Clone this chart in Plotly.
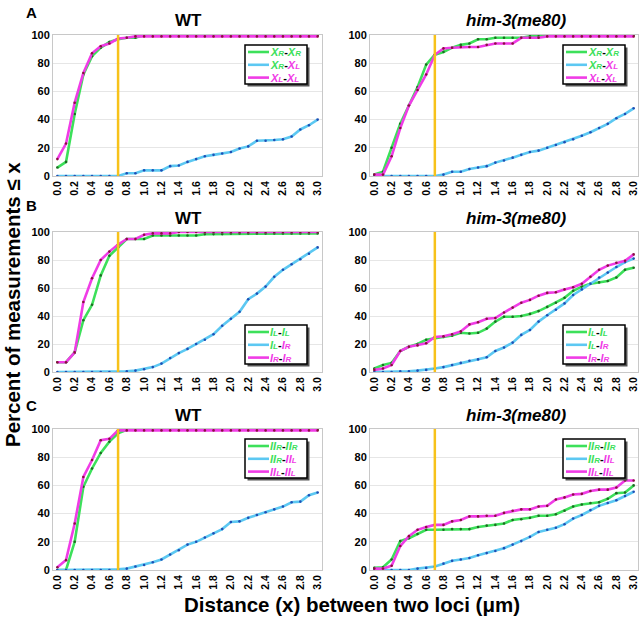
import plotly.graph_objects as go

# ---------------- data ----------------
x_vals = [round(i * 0.1, 1) for i in range(31)]
x_ticks = [round(i * 0.2, 1) for i in range(16)]
x_ticktext = ["%.1f" % v for v in x_ticks]
y_ticks = [0, 20, 40, 60, 80, 100]

# Panel A (X chromosome)
a_wt_same_r = [6, 10, 44, 72, 85, 91, 95, 97, 98, 98, 100, 100, 100, 100, 100, 100, 100, 100, 100, 100, 100, 100, 100, 100, 100, 100, 100, 100, 100, 100, 100]
a_wt_cross = [0, 0, 0, 0, 0, 0, 0, 0, 2, 2, 4, 4, 4, 7, 7.5, 10, 12, 14, 15, 16, 17, 19.5, 21, 25, 25, 25.5, 26, 28, 33, 36, 40]
a_wt_same_l = [12, 23, 52, 73, 87, 92, 94, 97.5, 98, 99, 99, 99, 99, 99, 99, 99, 99, 99, 99, 99, 99, 99, 99, 99, 99, 99, 99, 99, 99, 99, 99]

a_mu_same_r = [1, 3, 20, 37, 50, 63, 79, 86, 88, 91, 93, 94, 97, 97, 98, 98, 98, 98, 99, 99, 100, 100, 100, 100, 100, 100, 100, 100, 100, 100, 100]
a_mu_cross = [0, 0, 0, 0, 0, 0, 0, 0, 1, 3, 3, 5, 6, 7, 9.5, 11, 13, 15, 17, 18, 20, 22, 24, 26, 28.5, 31, 34, 37, 41, 44, 48]
a_mu_same_l = [1, 1, 14, 34, 50, 61, 72, 86, 90.5, 91, 91.5, 91.5, 91.5, 93, 94, 94, 94, 98, 98, 98, 99, 99, 99, 99, 99, 99, 99, 99, 99, 99, 99]

# Panel B (chromosome I)
b_wt_same_l = [7, 7, 14, 37, 48, 69, 83, 89, 95, 95, 95, 97.5, 97.5, 97.5, 97.5, 97.5, 97.5, 98.5, 98.5, 98.5, 99, 99, 99, 99, 99, 99, 99, 99, 99, 99, 99]
b_wt_cross = [0, 0, 0, 0, 0, 0, 0, 0, 0.5, 1, 2, 3.5, 6, 10, 13.5, 16.5, 20, 23, 27, 33, 38, 43, 52, 56, 61, 68, 73, 77, 80.5, 84.5, 89]
b_wt_same_r = [7, 7, 14, 50, 67, 80, 86, 91, 95, 95, 98, 99, 99, 99, 100, 100, 100, 100, 100, 100, 100, 100, 100, 100, 100, 100, 100, 100, 100, 100, 100]

b_mu_same_l = [2.5, 5, 6.5, 15, 18, 20, 23, 24, 25, 26, 28, 27.5, 28, 31, 36, 39.5, 39.5, 40, 41.5, 43.5, 46.5, 49.5, 53, 58, 61, 63, 64, 65, 67.5, 73, 74.5]
b_mu_cross = [0, 0, 0, 0.5, 0.5, 1, 1.5, 2.5, 3.5, 5, 6.5, 8, 9, 10.5, 15, 17.5, 21, 26.5, 30, 36, 40.5, 44.5, 49, 55, 59, 63, 67.5, 71, 75, 78.5, 81]
b_mu_same_r = [1.5, 2.5, 5, 15, 18, 19, 20.5, 25, 25.5, 27, 29, 34, 35.5, 38, 38.5, 42.5, 46, 49.5, 51.5, 54.5, 56.5, 57, 59, 60.5, 63, 68, 73, 76, 78, 79.5, 84]

# Panel C (chromosome II)
c_wt_same_r = [0, 0, 20, 59, 72, 83, 91, 97, 99.5, 100, 100, 100, 100, 100, 100, 100, 100, 100, 100, 100, 100, 100, 100, 100, 100, 100, 100, 100, 100, 100, 100]
c_wt_cross = [0, 0, 0, 0, 0, 0, 0, 0.5, 1, 2.5, 3.5, 5.5, 7.5, 11, 14, 18, 20, 23, 26, 29, 34, 34.5, 37, 39, 41, 43, 45, 48, 48.5, 53, 55]
c_wt_same_l = [2, 7, 33, 66, 78, 92, 93, 99, 99, 99, 99, 99, 99, 99, 99, 99, 99, 99, 99, 99, 99, 99, 99, 99, 99, 99, 99, 99, 99, 99, 99]

c_mu_same_r = [1.5, 2, 7.5, 20.5, 22.5, 25.5, 28.5, 28.5, 28.5, 29, 29, 29, 30.5, 31.5, 32, 33, 35.5, 36, 37, 38.5, 38.5, 39.5, 42, 45, 46.5, 47.5, 48, 50.5, 54.5, 55, 60]
c_mu_cross = [0, 0, 0, 0, 0, 1, 1.5, 2.5, 4.5, 6.5, 7.5, 8.5, 10.5, 12, 13.5, 15.5, 18, 20.5, 23.5, 27, 28.5, 30, 32.5, 36.5, 39, 42.5, 45.5, 47.5, 49.5, 52.5, 55.5]
c_mu_same_l = [1, 1, 3, 17, 24, 28.5, 30.5, 32, 32, 34.5, 35.5, 38, 38, 38.5, 38.5, 40.5, 42, 43, 43, 45, 45.5, 50, 51.5, 53.5, 54, 56, 57, 57, 58.5, 63.5, 63.5]

threshold = 0.7

# ---------------- styling ----------------
W, H = 640, 623
GREEN, CYAN, MAGENTA = "#3CE05A", "#5CC8F2", "#F03CE6"
GREEN_D, CYAN_D, MAGENTA_D = "#1d6b22", "#1f4fb5", "#8a1040"
GOLD = "#F7C21A"
FONT = "Liberation Sans, Arial, sans-serif"


def px_x(p):
    return p / W


def px_y(p):
    return 1 - p / H


def lab(chrom, arm, color):
    return ("<span style='color:%s'>%s<span style='font-size:8px'>%s</span></span>" % (color, chrom, arm))


def name3(c1, a1, col1, c2, a2, col2):
    return "<b><i>" + lab(c1, a1, col1) + "</i>-<i>" + lab(c2, a2, col2) + "</i></b>"


cols = [(53, 322), (370, 638)]
rows = [(35, 176), (232, 372), (429, 570)]

panels = [
    (0, 0, [a_wt_same_r, a_wt_cross, a_wt_same_l], ("X", "R", "L"), "top"),
    (0, 1, [a_mu_same_r, a_mu_cross, a_mu_same_l], ("X", "R", "L"), "top"),
    (1, 0, [b_wt_same_l, b_wt_cross, b_wt_same_r], ("I", "L", "R"), "bottom"),
    (1, 1, [b_mu_same_l, b_mu_cross, b_mu_same_r], ("I", "L", "R"), "bottom"),
    (2, 0, [c_wt_same_r, c_wt_cross, c_wt_same_l], ("II", "R", "L"), "top"),
    (2, 1, [c_mu_same_r, c_mu_cross, c_mu_same_l], ("II", "R", "L"), "top"),
]

fig = go.Figure()
layout = {}
shapes = []
annotations = []

for i, (r, c, series, chrom, legpos) in enumerate(panels):
    k = i + 1
    xa = "x" if k == 1 else "x%d" % k
    ya = "y" if k == 1 else "y%d" % k
    ch, a1, a2 = chrom
    names = [
        name3(ch, a1, GREEN, ch, a1, GREEN),
        name3(ch, a1, GREEN, ch, a2, MAGENTA),
        name3(ch, a2, MAGENTA, ch, a2, MAGENTA),
    ]
    lcols = [GREEN, CYAN, MAGENTA]
    mcols = [GREEN_D, CYAN_D, MAGENTA_D]
    for s, nm, lc, mc in zip(series, names, lcols, mcols):
        fig.add_trace(go.Scatter(x=x_vals, y=s, mode="lines+markers", name=nm,
                                 line=dict(color=lc, width=2.6),
                                 marker=dict(color=mc, size=2.6),
                                 xaxis=xa, yaxis=ya, showlegend=False))
    x0, x1 = cols[c]
    y0, y1 = rows[r]
    axkey_x = "xaxis" if k == 1 else "xaxis%d" % k
    axkey_y = "yaxis" if k == 1 else "yaxis%d" % k
    layout[axkey_x] = dict(
        domain=[px_x(x0), px_x(x1)], anchor=ya, range=[-0.05, 3.05],
        tickvals=x_ticks, ticktext=x_ticktext, tickangle=-90, automargin=False,
        tickfont=dict(family=FONT, size=10.5, color="black", weight="bold"),
        showgrid=False, zeroline=False, showline=True, linecolor="#c8c8c8",
        linewidth=1, mirror=True, ticks="", ticklen=0)
    layout[axkey_y] = dict(
        domain=[px_y(y1), px_y(y0)], anchor=xa, range=[0, 100], automargin=False,
        tickvals=y_ticks, tickfont=dict(family=FONT, size=11, color="black", weight="bold"),
        showgrid=True, gridcolor="#e6e6e6", gridwidth=1, zeroline=False,
        showline=True, linecolor="#c8c8c8", linewidth=1, mirror=True, ticks="")
    shapes.append(dict(type="line", xref=xa, yref=ya, x0=threshold, x1=threshold,
                       y0=0, y1=100, line=dict(color=GOLD, width=2.5), layer="above"))

    # ---- hand-drawn legend box ----
    bx1 = 307 if c == 0 else 625
    bx0 = bx1 - 62
    if legpos == "top":
        by0 = y0 + 10
    else:
        by0 = y1 - 47
    by1 = by0 + 39
    shapes.append(dict(type="rect", xref="paper", yref="paper",
                       x0=px_x(bx0 + 2.5), x1=px_x(bx1 + 2.5), y0=px_y(by1 + 2.5), y1=px_y(by0 + 2.5),
                       fillcolor="#555555", line=dict(width=0), layer="above"))
    shapes.append(dict(type="rect", xref="paper", yref="paper",
                       x0=px_x(bx0), x1=px_x(bx1), y0=px_y(by1), y1=px_y(by0),
                       fillcolor="white", line=dict(color="black", width=1.5), layer="above"))
    for j, (nm, lc) in enumerate(zip(names, lcols)):
        ry = by0 + 7 + j * 12.8
        shapes.append(dict(type="line", xref="paper", yref="paper",
                           x0=px_x(bx0 + 3), x1=px_x(bx0 + 24), y0=px_y(ry), y1=px_y(ry),
                           line=dict(color=lc, width=2.6), layer="above"))
        annotations.append(dict(text=nm, x=px_x(bx0 + 23), y=px_y(ry), xref="paper",
                                yref="paper", showarrow=False, xanchor="left", yanchor="middle",
                                font=dict(family=FONT, size=11, color="black")))

    title = "<b>WT</b>" if c == 0 else "<b><i>him-3(me80)</i></b>"
    tx = px_x(188 if c == 0 else 516)
    ty = px_y(rows[r][0] - 14)
    annotations.append(dict(text=title, x=tx, y=ty, xref="paper", yref="paper",
                            showarrow=False, xanchor="center", yanchor="middle",
                            font=dict(family=FONT, size=17, color="black")))

for letter, yy in (("A", 13), ("B", 205), ("C", 405)):
    annotations.append(dict(text="<b>%s</b>" % letter, x=px_x(31), y=px_y(yy), xref="paper",
                            yref="paper", showarrow=False, xanchor="center", yanchor="middle",
                            font=dict(family=FONT, size=15, color="black")))

annotations.append(dict(text="<b>Percent of measurements ≤ x</b>", x=px_x(12), y=px_y(305),
                        xref="paper", yref="paper", showarrow=False, textangle=-90,
                        xanchor="center", yanchor="middle",
                        font=dict(family=FONT, size=20.5, color="black")))
annotations.append(dict(text="<b>Distance (x) between two loci (μm)</b>", x=px_x(352), y=px_y(604),
                        xref="paper", yref="paper", showarrow=False,
                        xanchor="center", yanchor="middle",
                        font=dict(family=FONT, size=20.5, color="black")))

fig.update_layout(width=W, height=H, margin=dict(l=0, r=0, t=0, b=0),
                  paper_bgcolor="white", plot_bgcolor="white", showlegend=False,
                  shapes=shapes, annotations=annotations, **layout)

fig.write_html("out.html", config={"displayModeBar": False},
               post_script="document.body.style.margin='0';document.body.style.overflow='hidden';")
